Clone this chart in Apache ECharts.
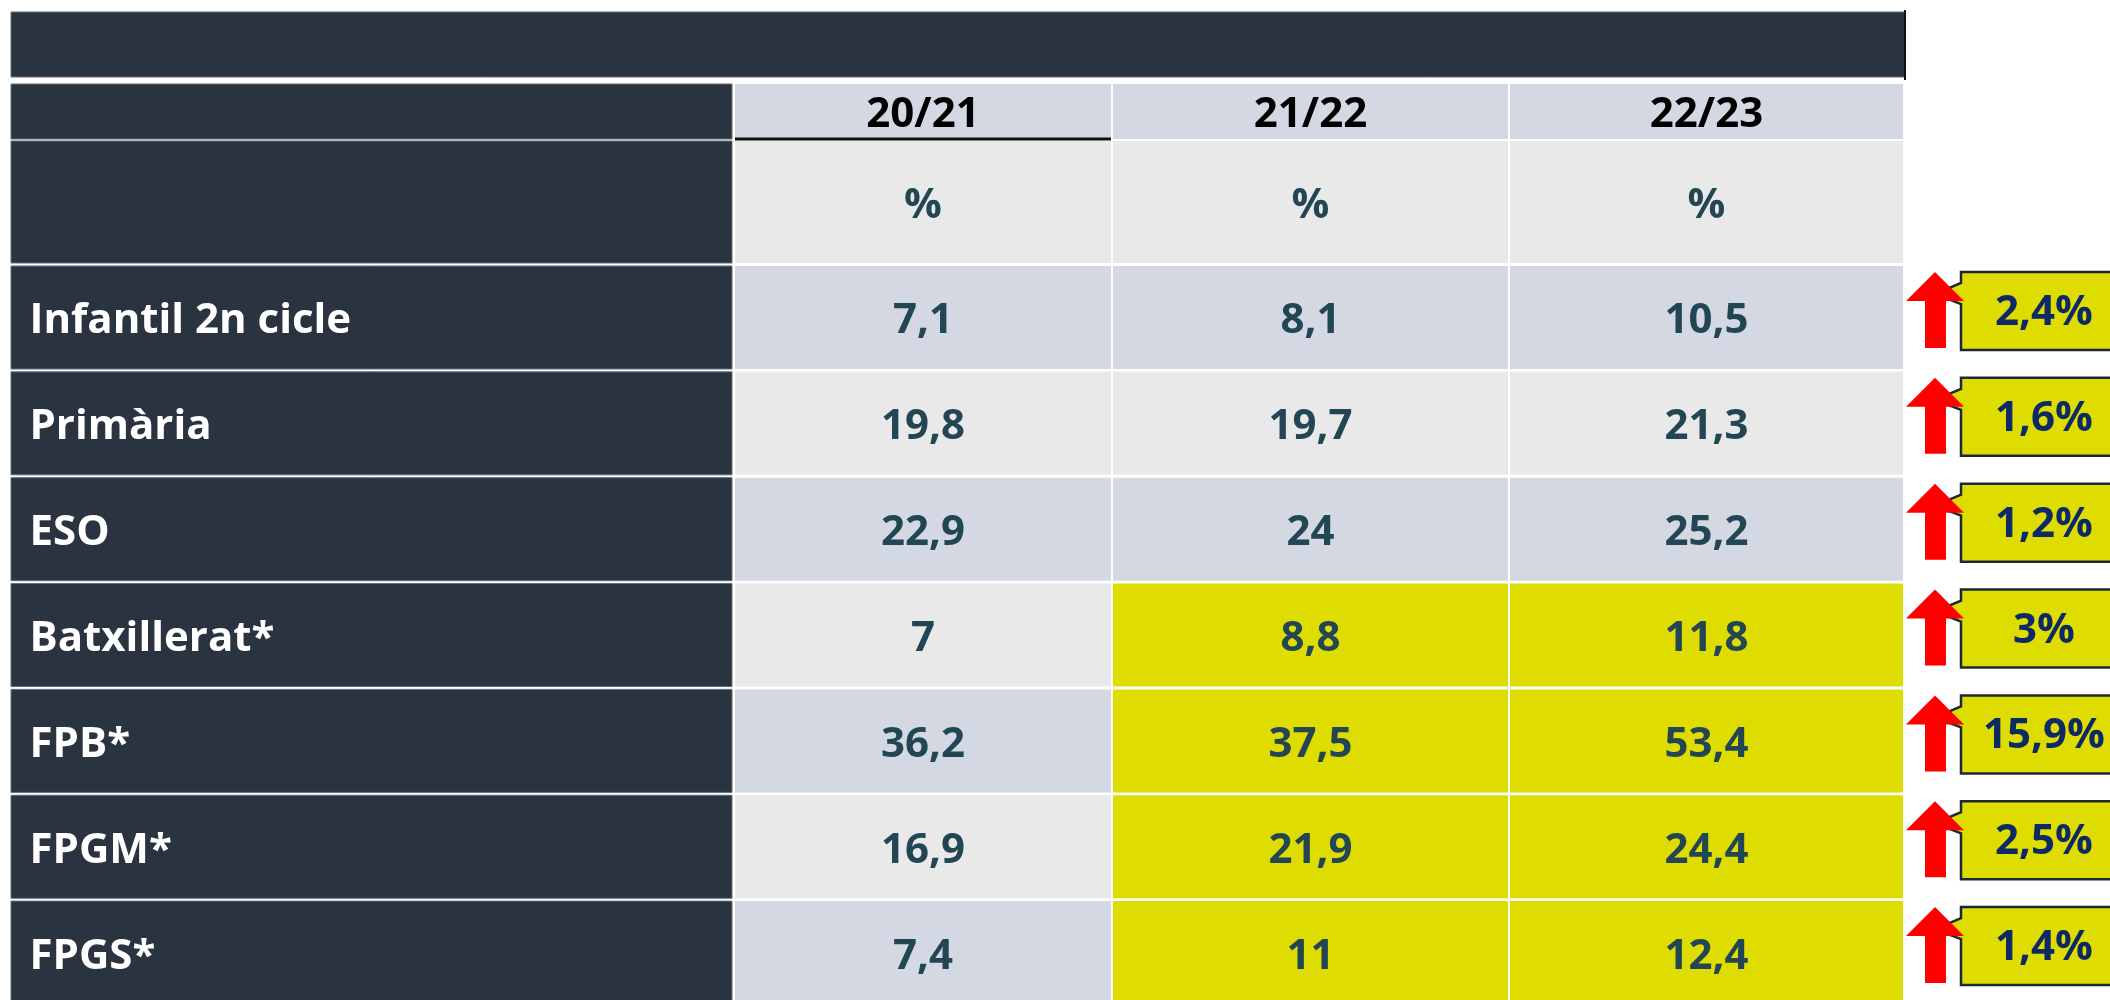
<!DOCTYPE html>
<html>
<head>
<meta charset="utf-8">
<script src="https://cdn.jsdelivr.net/npm/echarts@6/dist/echarts.min.js"></script>
<style>
html,body{margin:0;padding:0;background:#ffffff;}
#chart{width:2110px;height:1000px;}
</style>
</head>
<body>
<div id="chart"></div>
<script>
// ---------------- DATA ----------------
const categories = ['Infantil 2n cicle', 'Primària', 'ESO', 'Batxillerat*', 'FPB*', 'FPGM*', 'FPGS*'];
const years = ['20/21', '21/22', '22/23'];
const unitLabel = '%';
const values2021 = [7.1, 19.8, 22.9, 7, 36.2, 16.9, 7.4];
const values2122 = [8.1, 19.7, 24, 8.8, 37.5, 21.9, 11];
const values2223 = [10.5, 21.3, 25.2, 11.8, 53.4, 24.4, 12.4];
const changePoints = [2.4, 1.6, 1.2, 3, 15.9, 2.5, 1.4];

// ---------------- LAYOUT / STYLE ----------------
const L = {
  cols: [[11, 732], [735, 1111], [1113, 1508], [1510, 1903]],
  title: [11, 12, 1905, 77],
  header: [84, 139],
  unitRow: [141, 263],
  firstRowTop: 266,
  rowStep: 105.85,
  rowH: 103,
  labelPad: 19,
  textShift: 4,
  arrowX: 1935,
  boxLeft: 1961,
  boxRight: 2135,
  boxH: 78,
  boxOffset: 6
};
const C = {
  dark: '#2a3340',
  darkEdge: '#646c77',
  blue: '#d3d8e2',
  grey: '#e9e9e9',
  yellow: '#dedc00',
  valueText: '#234655',
  headText: '#000000',
  red: '#ff0000',
  callText: '#0d2a66',
  callEdge: '#1c2833'
};
const FONT = 'Open Sans';

const fmt = v => String(v).replace('.', ',');
const valueCols = [values2021, values2122, values2223];

const cells = [];
cells.push({ c: 0, r: -2, text: '', fill: C.dark });
years.forEach((y, i) => cells.push({ c: i + 1, r: -2, text: y, fill: C.blue, color: C.headText, size: 42 }));
cells.push({ c: 0, r: -1, text: '', fill: C.dark });
years.forEach((y, i) => cells.push({ c: i + 1, r: -1, text: unitLabel, fill: C.grey, color: C.valueText, size: 42 }));
categories.forEach((cat, r) => {
  cells.push({ c: 0, r: r, text: cat, fill: C.dark, color: '#ffffff', size: 42, left: true });
  valueCols.forEach((arr, i) => {
    const hl = cat.endsWith('*') && i > 0;
    cells.push({
      c: i + 1, r: r, text: fmt(arr[r]),
      fill: hl ? C.yellow : (r % 2 === 0 ? C.blue : C.grey),
      color: C.valueText, size: 42
    });
  });
});

function rowSpan(r) {
  if (r === -2) return L.header;
  if (r === -1) return L.unitRow;
  const t = L.firstRowTop + r * L.rowStep;
  return [t, t + L.rowH];
}

function rectFrom(api, x0, y0, x1, y1) {
  const p0 = api.coord([x0, y0]);
  const p1 = api.coord([x1, y1]);
  return { x: p0[0], y: p0[1], width: p1[0] - p0[0], height: p1[1] - p0[1] };
}

const chart = echarts.init(document.getElementById('chart'), null, { renderer: 'canvas' });

chart.setOption({
  animation: false,
  backgroundColor: '#ffffff',
  grid: { left: 0, top: 0, right: 0, bottom: 0 },
  xAxis: { type: 'value', min: 0, max: 2110, show: false },
  yAxis: { type: 'value', min: 0, max: 1000, inverse: true, show: false },
  series: [
    {
      name: 'frame',
      type: 'custom',
      silent: true,
      clip: false,
      data: [[0, 0]],
      renderItem: function (params, api) {
        const t = L.title;
        const r0 = api.coord([t[2], t[1] - 2]);
        const r1 = api.coord([t[2], t[3] + 3]);
        return {
          type: 'group',
          children: [
            { type: 'rect', shape: rectFrom(api, t[0], t[1], t[2], t[3]),
              style: { fill: C.dark, stroke: C.darkEdge, lineWidth: 1 } },
            { type: 'line', shape: { x1: r0[0], y1: r0[1], x2: r1[0], y2: r1[1] },
              style: { stroke: '#111111', lineWidth: 2 } }
          ]
        };
      }
    },
    {
      name: 'cells',
      type: 'custom',
      silent: true,
      clip: false,
      data: cells.map(d => [d.c, d.r]),
      renderItem: function (params, api) {
        const d = cells[params.dataIndex];
        const cx = L.cols[api.value(0)];
        const ry = rowSpan(api.value(1));
        const el = {
          type: 'rect',
          shape: rectFrom(api, cx[0], ry[0], cx[1], ry[1]),
          style: { fill: d.fill, stroke: d.fill === C.dark ? C.darkEdge : null, lineWidth: 1 }
        };
        if (d.text) {
          el.textContent = {
            type: 'text',
            style: { text: d.text, fill: d.color, fontFamily: FONT, fontWeight: 700, fontSize: d.size }
          };
          el.textConfig = d.left
            ? { position: 'insideLeft', distance: L.labelPad, offset: [0, L.textShift] }
            : { position: 'inside', offset: [0, L.textShift] };
        }
        return el;
      }
    },
    {
      name: 'underline',
      type: 'custom',
      silent: true,
      clip: false,
      data: [[1]],
      renderItem: function (params, api) {
        const cx = L.cols[api.value(0)];
        const a = api.coord([cx[0], L.header[1]]);
        const b = api.coord([cx[1], L.header[1]]);
        return { type: 'line', shape: { x1: a[0], y1: a[1], x2: b[0], y2: b[1] },
          style: { stroke: '#111111', lineWidth: 3 } };
      }
    },
    {
      name: 'change',
      type: 'custom',
      silent: true,
      clip: false,
      data: changePoints.map((v, r) => [r, v]),
      renderItem: function (params, api) {
        const r = api.value(0);
        const v = api.value(1);
        const top = rowSpan(r)[0] + L.boxOffset;
        const X = L.arrowX, Lx = L.boxLeft, R = L.boxRight, H = L.boxH;
        const P = (x, y) => api.coord([x, y]);
        const callout = [
          P(Lx, top), P(R, top), P(R, top + H), P(Lx, top + H),
          P(Lx, top + 32), P(X, top + 22), P(Lx, top + 11)
        ];
        const arrow = [
          P(X, top), P(X + 29, top + 29), P(X + 11, top + 29), P(X + 11, top + 76),
          P(X - 10, top + 76), P(X - 10, top + 29), P(X - 29, top + 29)
        ];
        return {
          type: 'group',
          children: [
            { type: 'polygon', shape: { points: callout },
              style: { fill: C.yellow, stroke: C.callEdge, lineWidth: 2.5, lineJoin: 'miter' } },
            { type: 'polygon', shape: { points: arrow }, style: { fill: C.red } },
            { type: 'rect', shape: rectFrom(api, Lx, top, R, top + H),
              style: { fill: 'rgba(0,0,0,0)' },
              textContent: { type: 'text',
                style: { text: fmt(v) + '%', fill: C.callText, fontFamily: FONT, fontWeight: 700, fontSize: 42 } },
              textConfig: { position: 'inside', offset: [-4, 2] } }
          ]
        };
      }
    }
  ]
});
</script>
</body>
</html>
